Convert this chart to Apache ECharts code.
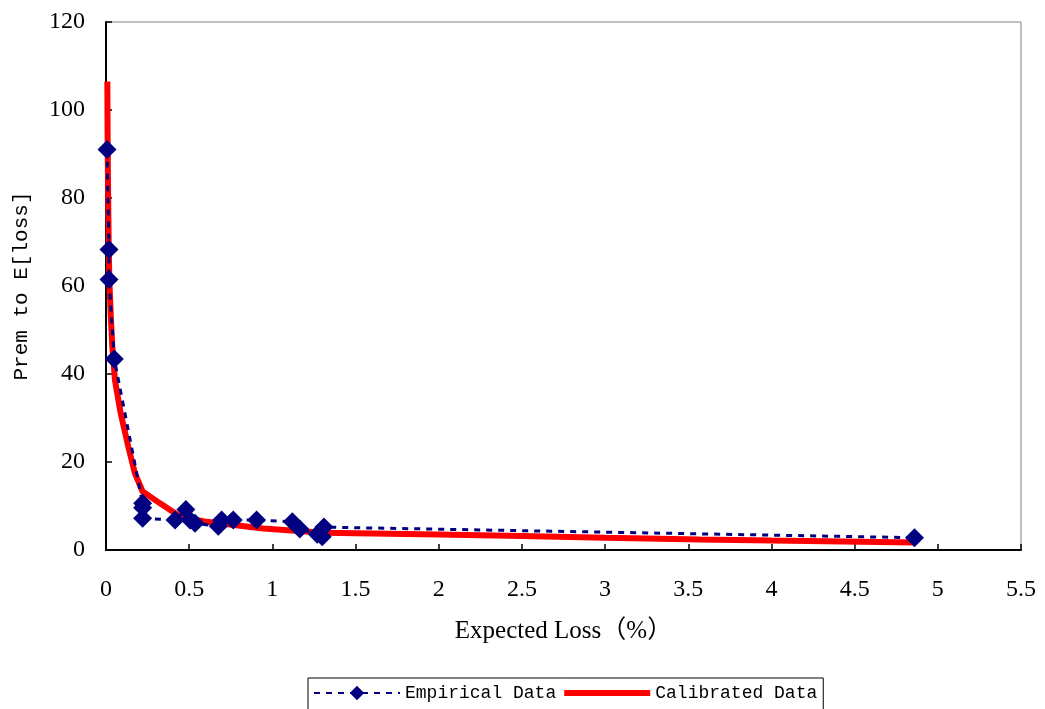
<!DOCTYPE html>
<html>
<head>
<meta charset="utf-8">
<script src="https://cdn.jsdelivr.net/npm/echarts@6/dist/echarts.min.js"></script>
<style>
html, body { margin: 0; padding: 0; background: #fff; }
#chart { width: 1045px; height: 709px; }
</style>
</head>
<body>
<div id="chart"></div>
<script>
// empirical points (expected loss %, premium / E[loss])
var empiricalX = [0.006, 0.018, 0.018, 0.05, 0.22, 0.22, 0.22, 0.415, 0.48, 0.505, 0.535,
	0.675, 0.695, 0.765, 0.905, 1.12, 1.165, 1.27, 1.3, 1.31, 4.86];
var empiricalY = [91, 68.3, 61.5, 43.4, 10.6, 9.6, 7.2, 6.8, 9.2, 6.8, 6.1,
	5.4, 6.8, 6.8, 6.8, 6.4, 4.8, 3.6, 3.0, 5.2, 2.8];

// calibrated curve
var calibratedX = [0.008, 0.010, 0.013, 0.016, 0.020, 0.028, 0.038, 0.054, 0.088, 0.134, 0.174,
	0.22, 0.325, 0.445, 0.605, 0.945, 1.306, 1.5, 2, 2.5, 3, 3.57, 4, 4.86];
var calibratedY = [106.5, 92, 80, 70, 61.4, 53.8, 46.2, 38.6, 31.1, 23.5, 17.4,
	13.3, 10.6, 7.6, 6.4, 4.9, 3.9, 3.8, 3.5, 3.2, 2.8, 2.4, 2.15, 1.7];

var seriesNames = ['Empirical Data', 'Calibrated Data'];

function pairs(xs, ys) {
	return xs.map(function (x, i) { return [x, ys[i]]; });
}

var chart = echarts.init(document.getElementById('chart'));
var tickFont = {
	fontFamily: 'Liberation Serif',
	fontSize: 24,
	color: '#000'
};

chart.setOption({
	animation: false,
	backgroundColor: '#fff',
	grid: {
		left: 106,
		right: 24,
		top: 22,
		bottom: 159,
		show: true,
		borderColor: '#808080',
		borderWidth: 1
	},
	legend: {
		data: [
			{ name: seriesNames[0] },
			// plain red bar, no symbol in the middle
			{ name: seriesNames[1], icon: 'path://M0,0L86,0L86,6L0,6Z' }
		],
		left: 308,
		top: 678,
		padding: [6, 6, 10, 5],
		itemGap: 8,
		itemWidth: 86,
		itemHeight: 18,
		borderColor: '#000',
		borderWidth: 1,
		textStyle: {
			fontFamily: 'Liberation Mono',
			fontSize: 18,
			color: '#000'
		}
	},
	xAxis: {
		type: 'value',
		min: 0,
		max: 5.5,
		interval: 0.5,
		name: 'Expected Loss（%）',
		nameLocation: 'middle',
		nameGap: 69,
		nameTextStyle: {
			fontFamily: 'Liberation Serif, Noto Sans CJK SC',
			fontSize: 25,
			color: '#000'
		},
		axisLine: { lineStyle: { color: '#000', width: 2 } },
		axisTick: { inside: true, length: 6, lineStyle: { color: '#000', width: 1.5 } },
		axisLabel: Object.assign({ margin: 28 }, tickFont),
		splitLine: { show: false }
	},
	yAxis: {
		type: 'value',
		min: 0,
		max: 120,
		interval: 20,
		name: 'Prem to E[loss]',
		nameLocation: 'middle',
		nameGap: 74,
		nameTextStyle: {
			fontFamily: 'Liberation Mono',
			fontSize: 21,
			color: '#000'
		},
		axisLine: { show: true, lineStyle: { color: '#000', width: 2 } },
		axisTick: { show: true, inside: true, length: 6, lineStyle: { color: '#000', width: 1.5 } },
		axisLabel: Object.assign({ margin: 21 }, tickFont),
		splitLine: { show: false }
	},
	series: [
		{
			name: seriesNames[0],
			type: 'line',
			z: 3,
			data: pairs(empiricalX, empiricalY),
			symbol: 'diamond',
			symbolSize: 19,
			itemStyle: { color: '#000080' },
			lineStyle: { color: '#000080', width: 3, type: [6, 6] }
		},
		{
			name: seriesNames[1],
			type: 'line',
			z: 2,
			data: pairs(calibratedX, calibratedY),
			showSymbol: false,
			itemStyle: { color: '#ff0000' },
			lineStyle: { color: '#ff0000', width: 6 }
		}
	]
});
</script>
</body>
</html>
